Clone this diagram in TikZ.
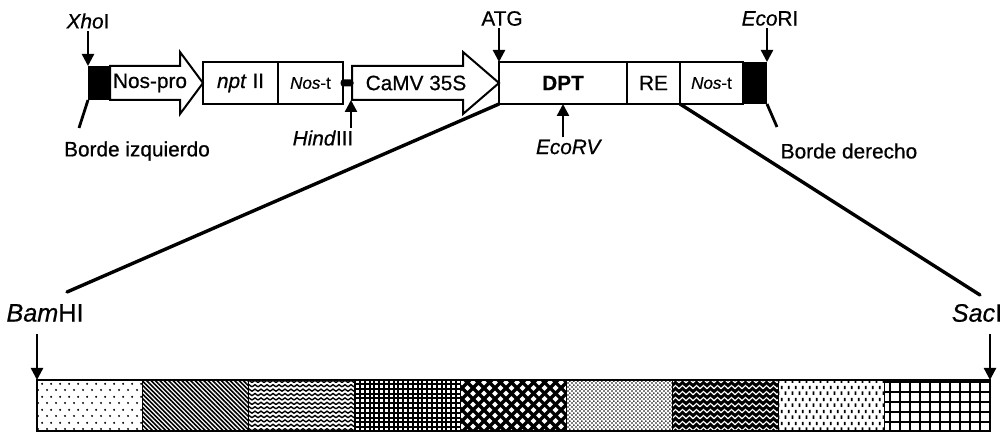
\documentclass[tikz,border=0pt]{standalone}
\usepackage{fontspec}
\setmainfont{Liberation Sans}[FakeBold=0.6]
\usetikzlibrary{arrows.meta,positioning,patterns}

\pgfdeclarepatternformonly{sparsedots}{\pgfqpoint{0pt}{0pt}}{\pgfqpoint{4.5pt}{6.5pt}}{\pgfqpoint{4.5pt}{6.5pt}}{
  \pgfpathcircle{\pgfqpoint{1.125pt}{1.625pt}}{0.6pt}
  \pgfpathcircle{\pgfqpoint{3.375pt}{4.875pt}}{0.6pt}
  \pgfusepath{fill}}
\pgfdeclarepatternformonly{densediag}{\pgfqpoint{-1pt}{-1pt}}{\pgfqpoint{3.2pt}{3.2pt}}{\pgfqpoint{2.2pt}{2.2pt}}{
  \pgfsetlinewidth{0.8pt}
  \pgfpathmoveto{\pgfqpoint{0pt}{2.2pt}}
  \pgfpathlineto{\pgfqpoint{2.2pt}{0pt}}
  \pgfusepath{stroke}}
\pgfdeclarepatternformonly{zigzag}{\pgfqpoint{-0.5pt}{0pt}}{\pgfqpoint{3.5pt}{2.2pt}}{\pgfqpoint{3pt}{2.2pt}}{
  \pgfsetlinewidth{0.7pt}
  \pgfpathmoveto{\pgfqpoint{0pt}{0.55pt}}
  \pgfpathlineto{\pgfqpoint{1.5pt}{1.65pt}}
  \pgfpathlineto{\pgfqpoint{3pt}{0.55pt}}
  \pgfusepath{stroke}}
\pgfdeclarepatternformonly{finegrid}{\pgfqpoint{-1pt}{-1pt}}{\pgfqpoint{3.4pt}{3.4pt}}{\pgfqpoint{2.4pt}{2.4pt}}{
  \pgfsetlinewidth{1pt}
  \pgfpathmoveto{\pgfqpoint{0pt}{0pt}}
  \pgfpathlineto{\pgfqpoint{0pt}{2.5pt}}
  \pgfpathmoveto{\pgfqpoint{0pt}{0pt}}
  \pgfpathlineto{\pgfqpoint{2.5pt}{0pt}}
  \pgfusepath{stroke}}
\pgfdeclarepatternformonly{diamonds}{\pgfqpoint{-1pt}{-1pt}}{\pgfqpoint{6.5pt}{6.5pt}}{\pgfqpoint{5.5pt}{5.5pt}}{
  \pgfsetlinewidth{1.6pt}
  \pgfpathmoveto{\pgfqpoint{0pt}{0pt}}
  \pgfpathlineto{\pgfqpoint{5.5pt}{5.5pt}}
  \pgfpathmoveto{\pgfqpoint{0pt}{5.5pt}}
  \pgfpathlineto{\pgfqpoint{5.5pt}{0pt}}
  \pgfusepath{stroke}}
\pgfdeclarepatternformonly{stipple}{\pgfqpoint{0pt}{0pt}}{\pgfqpoint{2.2pt}{2.2pt}}{\pgfqpoint{2.2pt}{2.2pt}}{
  \pgfpathcircle{\pgfqpoint{0.55pt}{0.55pt}}{0.5pt}
  \pgfpathcircle{\pgfqpoint{1.65pt}{1.65pt}}{0.5pt}
  \pgfusepath{fill}}
\pgfdeclarepatternformonly{herring}{\pgfqpoint{-0.5pt}{0pt}}{\pgfqpoint{4pt}{3pt}}{\pgfqpoint{3.5pt}{3pt}}{
  \pgfsetlinewidth{0.6pt}
  \pgfpathmoveto{\pgfqpoint{0pt}{0.6pt}}
  \pgfpathlineto{\pgfqpoint{1.75pt}{2.3pt}}
  \pgfpathlineto{\pgfqpoint{3.5pt}{0.6pt}}
  \pgfusepath{stroke}}
\pgfdeclarepatternformonly{vdashes}{\pgfqpoint{0pt}{0pt}}{\pgfqpoint{3.5pt}{6pt}}{\pgfqpoint{3.5pt}{6pt}}{
  \pgfsetlinewidth{1pt}
  \pgfpathmoveto{\pgfqpoint{0.875pt}{0.6pt}}
  \pgfpathlineto{\pgfqpoint{0.875pt}{2.4pt}}
  \pgfpathmoveto{\pgfqpoint{2.625pt}{3.6pt}}
  \pgfpathlineto{\pgfqpoint{2.625pt}{5.4pt}}
  \pgfusepath{stroke}}
\pgfdeclarepatternformonly{biggrid}{\pgfqpoint{-1pt}{-1pt}}{\pgfqpoint{6pt}{6pt}}{\pgfqpoint{5pt}{5pt}}{
  \pgfsetlinewidth{0.9pt}
  \pgfpathmoveto{\pgfqpoint{0pt}{0pt}}
  \pgfpathlineto{\pgfqpoint{0pt}{5.1pt}}
  \pgfpathmoveto{\pgfqpoint{0pt}{0pt}}
  \pgfpathlineto{\pgfqpoint{5.1pt}{0pt}}
  \pgfusepath{stroke}}

\begin{document}
\begin{tikzpicture}[
    x=0.5pt, y=-0.5pt,
    font=\fontsize{10.4}{12}\selectfont,
    lbl/.style={inner sep=1pt},
    big/.style={font=\fontsize{12.6}{14}\selectfont},
    small/.style={font=\fontsize{8.5}{10}\selectfont},
    part/.style={draw, line width=1pt, outer sep=0pt, inner sep=0pt, minimum height=21pt},
    border/.style={fill=black, outer sep=0pt, inner sep=0pt},
    gene/.style={draw, line width=1pt, line join=miter, fill=white},
    site/.style={line width=1.2pt, -{Triangle[length=6pt,width=6pt]}},
    lead/.style={line width=1.4pt},
    zoomline/.style={line width=1.7pt, line cap=round},
    seg/.style={draw, line width=0.5pt, outer sep=0pt, inner sep=0pt,
                minimum width=52.94pt, minimum height=25.5pt},
    pat1/.style={pattern=sparsedots},
    pat2/.style={pattern=densediag},
    pat3/.style={pattern=zigzag},
    pat4/.style={pattern=finegrid},
    pat5/.style={pattern=diamonds},
    pat6/.style={pattern=stipple},
    pat7/.style={preaction={fill=black}, pattern=herring, pattern color=white},
    pat8/.style={pattern=vdashes},
    pat9/.style={pattern=biggrid},
  ]
\useasboundingbox (0,0) rectangle (1007,432);

% construct
\node[border, minimum width=11pt, minimum height=17pt] (lb) at (99,83) {};
\node[part, minimum width=37.5pt] (npt) at (240.5,83) {\textit{npt} II};
\node[part, minimum width=32.5pt, right=0pt of npt, small] (nost) {\textit{Nos}-t};
\node[part, minimum width=64pt] (dpt) at (563,83) {\textbf{DPT}};
\node[part, minimum width=26.5pt, right=0pt of dpt] (re) {RE};
\node[part, minimum width=31.5pt, right=0pt of re, small] (nostb) {\textit{Nos}-t};
\node[border, minimum width=12pt, minimum height=21pt, right=0pt of nostb] (rb) {};

\draw[gene] (lb.north east) -- (180,66) -- (180,52) -- (npt.west)
  -- (180,114) -- (180,100) -- (lb.south east) -- cycle;
\node[lbl] (nospro) at (150,83) {Nos-pro};
\draw[gene] (352,66) -- (463,66) -- (463,52) -- (dpt.west)
  -- (463,114) -- (463,100) -- (352,100) -- cycle;
\node[lbl] (camv) at (416,83) {CaMV 35S};
\node[fill=black, rounded corners=1.5pt, inner sep=0pt,
      minimum width=6.5pt, minimum height=3.5pt] (jn) at (347,83) {};

% sites
\node[lbl] (xho) at (88,21) {\textit{Xho}I};
\draw[site] (xho.south -| lb.north west) -- (lb.north west);
\node[lbl] (atg) at (502,18.5) {ATG};
\draw[site] (atg.south -| dpt.north west) -- (dpt.north west);
\node[lbl] (ecori) at (770,18.5) {\textit{Eco}RI};
\draw[site] (ecori.south -| rb.north east) -- (rb.north east);
\coordinate (hsite) at (351,100);
\node[lbl] (hind) at (323,138) {\textit{Hind}III};
\draw[site] (hind.north -| hsite) -- (hsite);
\node[lbl] (ecorv) at (569,147) {\textit{EcoRV}};
\draw[site] (ecorv.north -| dpt.south) -- (dpt.south);

% borders
\node[lbl] (bizq) at (137,151) {Borde izquierdo};
\coordinate (bizqend) at (79,128);
\draw[lead] (lb.south west) -- (bizqend);
\node[lbl] (bder) at (849,151) {Borde derecho};
\coordinate (bderend) at (777,127);
\draw[lead] (rb.south east) -- (bderend);

% expanded DPT
\foreach \i in {1,...,9}
  \node[seg, pat\i] (s\i) at ({37+105.89*(\i-0.5)},405.5) {};
\draw[line width=1pt] (s1.north west) rectangle (s9.south east);

\coordinate (bamend) at (67,292);
\coordinate (sacend) at (980,295);
\draw[zoomline] (dpt.south west) -- (bamend);
\draw[zoomline] (re.south east) -- (sacend);

\node[lbl, big] (bam) at (45,313) {\textit{Bam}HI};
\draw[site] ([yshift=-5pt]bam.south -| s1.north west) -- (s1.north west);
\node[lbl, big] (sac) at (977,313) {\textit{Sac}I};
\draw[site] ([yshift=-5pt]sac.south -| s9.north east) -- (s9.north east);

\end{tikzpicture}
\end{document}
